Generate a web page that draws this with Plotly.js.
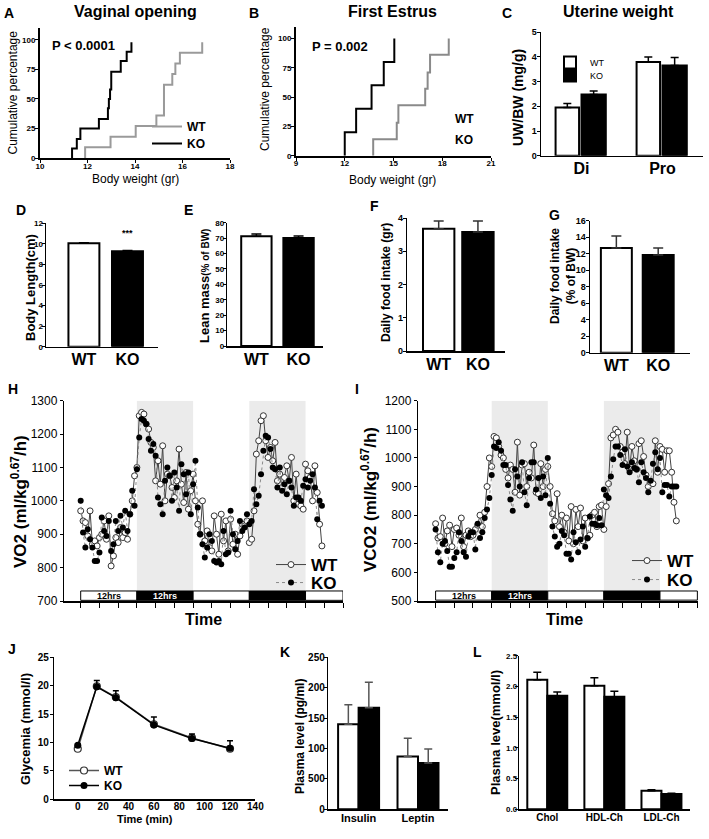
<!DOCTYPE html>
<html><head><meta charset="utf-8">
<script src="https://cdn.plot.ly/plotly-3.0.1.min.js"></script>
<style>html,body{margin:0;padding:0;background:#fff}#chart{width:709px;height:839px}</style>
</head><body><div id="chart"></div>
<script>
// ---------------- DATA ----------------
// A: vaginal opening (cumulative %, body weight g)
const vagWT_bw  = [11.9, 11.9, 12.97, 14.03, 14.9, 15.22, 15.57, 15.7, 15.89, 16.83];
const vagWT_pct = [0, 9, 18, 27, 36, 62, 71, 80, 89, 98];
const vagKO_bw  = [11.35, 11.35, 11.55, 11.7, 12.48, 12.86, 12.9, 12.95, 13.0, 13.4, 13.65, 13.85];
const vagKO_pct = [0, 8, 16, 25, 33, 42, 50, 58, 73, 82, 90, 98];
// B: first estrus
const estWT_bw  = [13.75, 13.75, 15.2, 15.3, 16.95, 17.1, 17.25, 18.4];
const estWT_pct = [0, 14, 28, 43, 57, 71, 86, 100];
const estKO_bw  = [12.0, 12.0, 12.7, 13.65, 14.4, 15.05];
const estKO_pct = [0, 20, 40, 60, 80, 100];
// C: uterine weight
const uterCats = ['Di', 'Pro'];
const uterWT = [1.95, 3.8],  uterWT_err = [0.17, 0.2];
const uterKO = [2.48, 3.65], uterKO_err = [0.14, 0.33];
// D-G: two-group bars
const groups = ['WT', 'KO'];
const bodyLen = [10.05, 9.27],  bodyLen_err = [0.07, 0.08];
const leanMass = [71.2, 70.0],  leanMass_err = [1.5, 1.3];
const foodGr = [3.68, 3.58],    foodGr_err = [0.23, 0.33];
const foodPct = [12.7, 11.85],  foodPct_err = [1.45, 0.85];
// H, I: indirect calorimetry, one point each 0.5 h starting at 0 h
const sampleStartH = 0, sampleStepH = 0.5;
const vo2WT = [970,940,935,895,970,870,880,865,890,900,
  940,885,955,805,835,890,875,920,890,905,
  885,960,1000,1075,1100,1255,1265,1260,1230,1215,
  1175,1160,1060,1120,1050,1165,1000,1080,1075,1040,
  1010,1060,1155,1050,995,1085,975,1030,1080,1000,
  930,900,1000,880,910,860,850,955,900,840,
  960,880,940,850,945,870,900,840,895,930,
  925,940,875,885,970,1140,1180,1240,1255,1180,
  1130,1160,1120,1175,1060,1080,1040,1070,1105,1060,
  1130,1000,1080,990,985,975,1110,1090,1070,1000,
  1105,1025,930,865];
const vo2KO = [1000,905,860,915,885,860,820,820,845,950,
  910,895,940,850,870,940,910,955,920,970,
  910,960,1030,985,1095,1190,1245,1240,1230,1185,
  1150,1170,1135,1010,990,960,1060,1100,1075,1000,
  1085,1040,970,1110,1080,1020,1085,960,1050,1120,
  980,900,870,830,860,900,880,820,815,820,
  810,910,840,845,970,900,855,880,940,910,
  920,960,930,940,1035,990,1015,1080,1150,1195,
  1190,1155,1100,1095,1040,1100,1030,1050,1020,1060,
  1040,985,1010,1010,1000,1045,1065,1040,1060,1080,
  1040,945,1000,985];
const vco2WT = [770,720,725,790,700,745,765,690,750,755,
  730,790,690,730,745,725,730,750,765,800,
  760,810,900,1000,970,1075,1070,1040,1010,1000,
  960,930,975,960,880,1055,870,975,980,900,
  950,930,1045,880,875,980,900,960,970,900,
  805,780,875,760,800,740,790,710,830,700,
  820,760,825,710,790,720,730,800,810,760,
  830,835,750,830,910,1070,1080,1100,1090,1040,
  1020,980,1090,960,1040,990,960,1050,1060,1005,
  940,900,915,910,1060,950,1040,1030,950,1025,
  1025,950,845,780];
const vco2KO = [750,670,635,700,710,675,620,620,650,670,
  740,710,670,655,725,740,740,680,770,720,
  740,790,820,860,940,1040,1035,1055,1025,975,
  975,905,855,815,960,935,900,985,880,835,
  930,985,985,890,930,860,935,870,1000,840,
  760,725,690,700,745,730,665,665,645,740,
  705,670,715,760,690,720,795,770,770,765,
  790,765,890,870,860,935,995,1040,1040,1010,
  975,1030,970,950,985,965,960,915,985,950,
  930,880,920,980,1020,960,1000,880,905,905,
  865,900,900,900];
const phaseStart = [0, 12, 24, 36, 48];
const phaseEnd   = [12, 24, 36, 48, 56];
const phaseDark  = [false, true, false, true, false];
const phaseLabel = ['12hrs', '12hrs', '', '', ''];
const timeTicks = [0,4,8,12,16,20,24,28,32,36,40,44,48,52,56];
// J: glucose tolerance
const gttTime = [0, 15, 30, 60, 90, 120];
const gttWT = [8.9, 19.9, 18.0, 13.2, 10.8, 8.9];
const gttKO = [9.5, 19.8, 17.9, 13.1, 10.7, 9.0];
const gttKO_err = [0.2, 1.1, 1.2, 1.4, 0.8, 1.3];
// K: hormones
const hormCats = ['Insulin', 'Leptin'];
const hormWT = [140, 87],  hormWT_err = [32, 30];
const hormKO = [167, 76],  hormKO_err = [42, 23];
const hormTickVals = [0, 50, 100, 150, 200, 250];
const hormTickText = ['0', '500', '100', '150', '200', '250'];
// L: lipids
const lipCats = ['Chol', 'HDL-Ch', 'LDL-Ch'];
const lipWT = [2.11, 2.01, 0.30], lipWT_err = [0.12, 0.13, 0.02];
const lipKO = [1.85, 1.83, 0.25], lipKO_err = [0.06, 0.09, 0.01];
const lipTickVals = [0, 0.5, 1.0, 1.5, 2.0, 2.5];
const lipTickText = ['0.0', '0.5', '1.0', '1.5', '2.0', '2.5'];

// ---------------- LAYOUT HELPERS ----------------
const W = 709, H = 839;
const FONT = 'Liberation Sans, Arial, Helvetica, sans-serif';
const xd = (a, b) => [a / W, b / W];
const yd = (top, bot) => [1 - bot / H, 1 - top / H];
function axis(o) {
  return Object.assign({
    showline: true, linecolor: 'black', linewidth: 1.5, showgrid: false, zeroline: false,
    ticks: 'outside', ticklen: 3, tickwidth: 1, tickcolor: 'black', fixedrange: true,
    tickfont: {family: FONT, size: 8, color: 'black', weight: 'bold'}
  }, o);
}
const tf = (size, weight) => ({family: FONT, size: size, color: 'black', weight: weight || 'bold'});
function note(text, x, y, size, opt) {
  return Object.assign({text: text, xref: 'paper', yref: 'paper', x: x / W, y: 1 - y / H,
    showarrow: false, xanchor: 'center', yanchor: 'middle', font: tf(size, 'normal')}, opt || {});
}
const errUp = (arr, color, w, th) => ({type: 'data', symmetric: false, array: arr,
  arrayminus: arr.map(() => 0), color: color || 'black', thickness: th || 1.5, width: w || 5});

const traces = [];
// A
traces.push({x: vagWT_bw, y: vagWT_pct, mode: 'lines', line: {shape: 'hv', color: '#9a9a9a', width: 2},
  name: 'WT', xaxis: 'x', yaxis: 'y', legend: 'legend', showlegend: true});
traces.push({x: vagKO_bw, y: vagKO_pct, mode: 'lines', line: {shape: 'hv', color: 'black', width: 2},
  name: 'KO', xaxis: 'x', yaxis: 'y', legend: 'legend2', showlegend: true});
// B
traces.push({x: estWT_bw, y: estWT_pct, mode: 'lines', line: {shape: 'hv', color: '#8a8a8a', width: 2},
  name: 'WT', xaxis: 'x2', yaxis: 'y2', showlegend: false});
traces.push({x: estKO_bw, y: estKO_pct, mode: 'lines', line: {shape: 'hv', color: 'black', width: 2},
  name: 'KO', xaxis: 'x2', yaxis: 'y2', showlegend: false});
// C
traces.push({type: 'bar', x: uterCats, y: uterWT, width: 0.29, offset: -0.32, name: 'WT',
  marker: {color: 'white', line: {color: 'black', width: 2}}, error_y: errUp(uterWT_err, 'black', 4),
  xaxis: 'x3', yaxis: 'y3', legend: 'legend3', showlegend: true});
traces.push({type: 'bar', x: uterCats, y: uterKO, width: 0.3, offset: 0.0, name: 'KO',
  marker: {color: 'black', line: {color: 'black', width: 2}}, error_y: errUp(uterKO_err, 'black', 4),
  xaxis: 'x3', yaxis: 'y3', legend: 'legend10', showlegend: true});
// D-G
function twoBar(vals, errs, ax, width, ecol) {
  return {type: 'bar', x: groups, y: vals, width: width,
    marker: {color: ['white', 'black'], line: {color: 'black', width: 2}},
    error_y: errUp(errs, ecol || 'black', 5), xaxis: 'x' + ax, yaxis: 'y' + ax, showlegend: false};
}
traces.push(twoBar(bodyLen, bodyLen_err, 4, 0.71));
traces.push(twoBar(leanMass, leanMass_err, 5, 0.72));
traces.push(twoBar(foodGr, foodGr_err, 6, 0.8, '#333'));
traces.push(twoBar(foodPct, foodPct_err, 7, 0.74, '#333'));
// H, I
function calTraces(wt, ko, ax, lgW, lgK) {
  return [
    {y: wt, x0: sampleStartH, dx: sampleStepH, mode: 'lines+markers', name: 'WT',
      line: {color: '#444', width: 1},
      marker: {symbol: 'circle', size: 6, color: 'white', line: {color: '#333', width: 1}},
      xaxis: 'x' + ax, yaxis: 'y' + ax, legend: lgW, showlegend: true},
    {y: ko, x0: sampleStartH, dx: sampleStepH, mode: 'lines+markers', name: 'KO',
      line: {color: '#8a8a8a', width: 1, dash: 'dot'},
      marker: {symbol: 'circle', size: 6, color: 'black'},
      xaxis: 'x' + ax, yaxis: 'y' + ax, legend: lgK, showlegend: true}
  ];
}
traces.push(...calTraces(vo2WT, vo2KO, 8, 'legend4', 'legend7'));
traces.push(...calTraces(vco2WT, vco2KO, 9, 'legend5', 'legend8'));
// J
traces.push({x: gttTime, y: gttWT, mode: 'lines+markers', name: 'WT',
  line: {color: '#555', width: 1.5}, marker: {size: 7, color: 'white', line: {color: '#333', width: 1.2}},
  xaxis: 'x10', yaxis: 'y10', legend: 'legend6', showlegend: true});
traces.push({x: gttTime, y: gttKO, mode: 'lines+markers', name: 'KO',
  line: {color: 'black', width: 1.5}, marker: {size: 7, color: 'black'},
  error_y: errUp(gttKO_err, 'black', 3, 1.5),
  xaxis: 'x10', yaxis: 'y10', legend: 'legend9', showlegend: true});
// K
traces.push({type: 'bar', x: hormCats, y: hormWT, width: 0.345, offset: -0.345, name: 'WT',
  marker: {color: 'white', line: {color: 'black', width: 2}}, error_y: errUp(hormWT_err, '#555', 4),
  xaxis: 'x11', yaxis: 'y11', showlegend: false});
traces.push({type: 'bar', x: hormCats, y: hormKO, width: 0.345, offset: 0, name: 'KO',
  marker: {color: 'black', line: {color: 'black', width: 2}}, error_y: errUp(hormKO_err, '#555', 4),
  xaxis: 'x11', yaxis: 'y11', showlegend: false});
// L
traces.push({type: 'bar', x: lipCats, y: lipWT, width: 0.35, offset: -0.35, name: 'WT',
  marker: {color: 'white', line: {color: 'black', width: 2}}, error_y: errUp(lipWT_err, 'black', 4),
  xaxis: 'x12', yaxis: 'y12', showlegend: false});
traces.push({type: 'bar', x: lipCats, y: lipKO, width: 0.35, offset: 0, name: 'KO',
  marker: {color: 'black', line: {color: 'black', width: 2}}, error_y: errUp(lipKO_err, 'black', 4),
  xaxis: 'x12', yaxis: 'y12', showlegend: false});

// shapes (night shading and light/dark bar) built from the phase arrays
const shapes = [];
const annotations = [];
function phases(ax, yLo, yBarTop, yTop) {
  phaseStart.forEach((s, i) => {
    const e = phaseEnd[i];
    if (phaseDark[i]) shapes.push({type: 'rect', xref: 'x' + ax, yref: 'y' + ax, x0: s, x1: e,
      y0: yBarTop, y1: yTop, fillcolor: '#ebebeb', line: {width: 0}, layer: 'below'});
    shapes.push({type: 'rect', xref: 'x' + ax, yref: 'y' + ax, x0: s, x1: e, y0: yLo, y1: yBarTop,
      fillcolor: phaseDark[i] ? 'black' : 'white', line: {color: 'black', width: 1}, layer: 'above'});
    if (phaseLabel[i]) annotations.push({text: '<b>' + phaseLabel[i] + '</b>', xref: 'x' + ax, yref: 'y' + ax,
      x: (s + e) / 2, y: (yLo + yBarTop) / 2, showarrow: false,
      font: {family: FONT, size: 9, color: phaseDark[i] ? 'white' : 'black'}});
  });
}
phases(8, 702, 730, 1300);
phases(9, 503, 535, 1200);

// text annotations
const B = s => '<b>' + s + '</b>';
const letters = [['A', 9, 13], ['B', 254, 13], ['C', 507, 13], ['D', 21, 210], ['E', 189, 210],
  ['F', 375, 206], ['G', 554, 215], ['H', 13, 389], ['I', 357, 389], ['J', 12, 649], ['K', 285, 652], ['L', 478, 652]];
letters.forEach(l => annotations.push(note(B(l[0]), l[1], l[2], 14)));
annotations.push(
  note(B('Vaginal opening'), 135, 12, 16),
  note(B('First Estrus'), 392, 12, 16),
  note(B('Uterine weight'), 618, 12, 16),
  note('Cumulative percentage', 12.5, 93, 12, {textangle: -90}),
  note('Cumulative percentage', 265, 89, 12, {textangle: -90}),
  note('Body weight (gr)', 135, 179, 12),
  note('Body weight (gr)', 392, 180, 12),
  note(B('P &lt; 0.0001'), 50, 46, 13, {xanchor: 'left'}),
  note(B('P = 0.002'), 310, 47, 13, {xanchor: 'left'}),
  note(B('WT'), 453, 119, 12, {xanchor: 'left'}),
  note(B('KO'), 453, 140, 12, {xanchor: 'left'}),
  note(B('UW/BW (mg/g)'), 518, 98, 14, {textangle: -90}),
  note(B('Body Length(cm)'), 31, 288, 13, {textangle: -90}),
  note(B('***'), 127, 233, 9),
  note(B('Lean mass') + '<span style="font-size:10px">' + B('(% of BW)') + '</span>', 205, 286, 13, {textangle: -90}),
  note(B('Daily food intake (gr)'), 386, 283, 12, {textangle: -90}),
  note(B('Daily food intake<br>(% of BW)'), 563, 276, 12, {textangle: -90}),
  note(B('VO2 (ml/kg<sup>0.67</sup>/h)'), 19, 502, 17, {textangle: -90}),
  note(B('VCO2 (ml/kg<sup>0.67</sup>/h)'), 369, 500, 17, {textangle: -90}),
  note(B('Time'), 203, 619, 16),
  note(B('Time'), 564, 619, 16),
  note(B('Glycemia (mmol/l)'), 25, 729, 13, {textangle: -90}),
  note(B('Time (min)'), 145, 819, 11),
  note(B('Plasma level (pg/ml)'), 300, 737, 12, {textangle: -90}),
  note(B('Plasma leve(mmol/l)'), 495, 733, 13, {textangle: -90})
);

const lg = (x, yTop, size, weight) => ({x: x / W, y: 1 - yTop / H, xanchor: 'left', yanchor: 'top',
  bgcolor: 'rgba(0,0,0,0)', borderwidth: 0, tracegroupgap: 0, itemclick: false, itemdoubleclick: false,
  font: tf(size, weight)});

const catAx = (dom, range, size, anchor) => axis({domain: dom, range: range, type: 'category', ticks: '',
  tickfont: tf(size), ticklabelstandoff: -2, anchor: anchor});

const layout = {
  width: W, height: H, margin: {l: 0, r: 0, t: 0, b: 0},
  paper_bgcolor: 'white', plot_bgcolor: 'rgba(0,0,0,0)',
  font: {family: FONT, color: 'black'},
  barmode: 'overlay',
  xaxis: axis({domain: xd(40, 230), range: [10, 18], tickvals: [10, 12, 14, 16, 18], anchor: 'y', linewidth: 2, ticklabelstandoff: -4}),
  yaxis: axis({domain: yd(28, 158), range: [0, 110], tickvals: [0, 25, 50, 75, 100], anchor: 'x', linewidth: 2, ticklabelstandoff: -2}),
  xaxis2: axis({domain: xd(296, 491), range: [9, 21], tickvals: [9, 12, 15, 18, 21], anchor: 'y2', linewidth: 2, ticklabelstandoff: -4}),
  yaxis2: axis({domain: yd(26.7, 155.7), range: [0, 110], tickvals: [0, 25, 50, 75, 100], anchor: 'x2', linewidth: 2, ticklabelstandoff: -2}),
  xaxis3: catAx(xd(541, 703), [-0.5, 1.5], 16, 'y3'),
  yaxis3: axis({domain: yd(32.3, 155.7), range: [0, 5], dtick: 1, anchor: 'x3', tickfont: tf(9), ticklabelstandoff: -2}),
  xaxis4: catAx(xd(46, 158), [-0.87, 1.7], 16, 'y4'),
  yaxis4: axis({domain: yd(223.3, 346.7), range: [0, 12], dtick: 2, anchor: 'x4', ticklabelstandoff: -3}),
  xaxis5: catAx(xd(227.3, 323), [-0.69, 1.58], 16, 'y5'),
  yaxis5: axis({domain: yd(222.7, 346), range: [0, 80], dtick: 10, anchor: 'x5', ticklabelstandoff: -3}),
  xaxis6: catAx(xd(407.3, 505), [-0.8, 1.69], 16, 'y6'),
  yaxis6: axis({domain: yd(218, 351), range: [0, 4], dtick: 1, anchor: 'x6', tickfont: tf(9), ticklabelstandoff: -2}),
  xaxis7: catAx(xd(590, 690), [-0.63, 1.76], 16, 'y7'),
  yaxis7: axis({domain: yd(220.7, 352.7), range: [0, 16], dtick: 2, anchor: 'x7', tickfont: tf(9), ticklabelstandoff: -2}),
  xaxis8: axis({domain: xd(64.3, 343), range: [-3.5, 56], tickvals: timeTicks, showticklabels: false, ticklen: 5, anchor: 'y8'}),
  yaxis8: axis({domain: yd(400.7, 601), range: [700, 1300], dtick: 100, ticklen: 3, anchor: 'x8', tickfont: tf(12, 'normal')}),
  xaxis9: axis({domain: xd(418.3, 698.3), range: [-3.7, 56.2], tickvals: timeTicks, showticklabels: false, ticklen: 5, anchor: 'y9'}),
  yaxis9: axis({domain: yd(400.7, 601), range: [500, 1200], dtick: 100, ticklen: 3, anchor: 'x9', tickfont: tf(12, 'normal')}),
  xaxis10: axis({domain: xd(54.3, 255.4), range: [-18.5, 140], tickvals: [0, 20, 40, 60, 80, 100, 120, 140], ticks: '', anchor: 'y10', tickfont: tf(10), ticklabelstandoff: -3}),
  yaxis10: axis({domain: yd(657.3, 799.3), range: [0, 25], dtick: 5, anchor: 'x10', tickfont: tf(10), ticklabelstandoff: -1}),
  xaxis11: catAx(xd(328.3, 448.3), [-0.51, 1.51], 11, 'y11'),
  yaxis11: axis({domain: yd(657.3, 809.3), range: [0, 250], tickvals: hormTickVals, ticktext: hormTickText, anchor: 'x11', tickfont: tf(10), ticklabelstandoff: -3}),
  xaxis12: catAx(xd(519.3, 690), [-0.49, 2.5], 10, 'y12'),
  yaxis12: axis({domain: yd(655.7, 809.3), range: [0, 2.5], tickvals: lipTickVals, ticktext: lipTickText, anchor: 'x12', ticklabelstandoff: -4}),
  legend: lg(147, 112, 12),
  legend2: lg(147, 129, 12),
  legend3: lg(550, 48, 9, 'normal'),
  legend10: lg(550, 61, 9, 'normal'),
  legend4: lg(271, 547, 17),
  legend7: lg(271, 565, 17),
  legend5: lg(627, 543, 17),
  legend8: lg(627, 562, 17),
  legend6: lg(64, 756, 12),
  legend9: lg(64, 771, 12),
  shapes: shapes,
  annotations: annotations
};

Plotly.newPlot('chart', traces, layout, {displayModeBar: false, staticPlot: true});
</script>
</body></html>
